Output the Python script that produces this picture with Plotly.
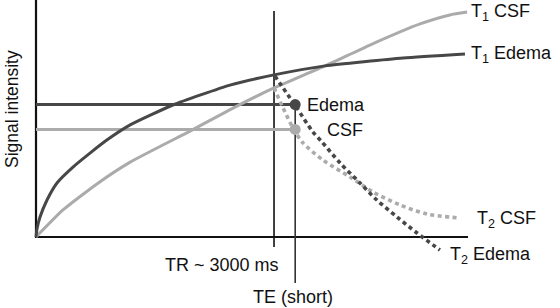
import plotly.graph_objects as go

# ---- data (arbitrary units: time 0..100 along x axis, signal 0..100 up y axis) ----
t1_edema_x = [0, 0.23, 0.93, 2.55, 4.86, 8.56, 12.5, 16.4, 21.8, 31.7, 44.9, 55.1, 66.9, 85.0, 99.3]
t1_edema_y = [0, 3.4, 8.4, 15.6, 22.8, 29.5, 35.4, 40.9, 47.3, 55.7, 64.1, 68.4, 72.2, 75.5, 77.2]

t1_csf_x = [0, 6.25, 14.1, 21.8, 36.1, 45.6, 55.1, 66.9, 77.3, 88.9, 95.8, 99.8]
t1_csf_y = [0, 11.4, 22.4, 31.6, 45.1, 54.4, 62.9, 72.2, 81.0, 89.9, 93.7, 94.9]

t2_edema_x = [55.3, 60.4, 64.1, 66.2, 70.4, 75.0, 78.9, 83.6, 88.2, 93.5]
t2_edema_y = [67.9, 54.4, 44.3, 40.1, 31.2, 22.8, 15.6, 8.4, 1.7, -5.5]

t2_csf_x = [55.1, 57.2, 59.5, 61.8, 66.4, 72.7, 78.0, 84.3, 90.5, 98.1]
t2_csf_y = [62.9, 54.4, 46.0, 39.7, 32.5, 25.3, 19.0, 13.5, 9.7, 8.0]

tr_time = 55.1          # TR ~ 3000 ms
te_time = 60.0          # TE (short)
edema_signal = 55.9
csf_signal = 45.4
axis_max_x = 100
axis_max_y = 100

DARK = "#474747"
LIGHT = "#ababab"
FONT = "Liberation Sans, Arial, Helvetica, sans-serif"

fig = go.Figure()

def line(x, y, color, width, dash="solid", shape="linear", smoothing=1.0):
    fig.add_trace(go.Scatter(x=x, y=y, mode="lines", hoverinfo="skip",
                             line=dict(color=color, width=width, dash=dash, shape=shape,
                                       smoothing=smoothing)))

# axes
line([0, 0, axis_max_x], [axis_max_y, 0, 0], "#111111", 2.2)
# TR and TE markers
line([tr_time, tr_time], [95.4, -4.2], "#111111", 1.6)
line([te_time, te_time], [edema_signal, -19.4], "#333333", 1.6)
# horizontal signal lines
line([0, te_time], [edema_signal, edema_signal], DARK, 2.8)
line([0, te_time], [csf_signal, csf_signal], LIGHT, 3.0)
# T1 curves
line(t1_csf_x, t1_csf_y, LIGHT, 3.0, shape="spline", smoothing=0.5)
line(t1_edema_x, t1_edema_y, DARK, 3.0, shape="spline", smoothing=0.5)
# T2 curves
line(t2_csf_x, t2_csf_y, LIGHT, 3.6, dash="4px,3.5px", shape="spline", smoothing=0.8)
line(t2_edema_x, t2_edema_y, DARK, 3.6, dash="4px,3.5px", shape="spline", smoothing=0.8)
# dots
fig.add_trace(go.Scatter(x=[te_time], y=[edema_signal], mode="markers", hoverinfo="skip",
                         marker=dict(color=DARK, size=11)))
fig.add_trace(go.Scatter(x=[te_time], y=[csf_signal], mode="markers", hoverinfo="skip",
                         marker=dict(color=LIGHT, size=11)))

labels = [
    ("T<sub>1</sub> CSF", 100.2, 94.7, "left"),
    ("T<sub>1</sub> Edema", 100.2, 77.2, "left"),
    ("Edema", 62.3, 55.7, "left"),
    ("CSF", 66.9, 45.1, "left"),
    ("T<sub>2</sub> CSF", 101.6, 7.2, "left"),
    ("T<sub>2</sub> Edema", 95.4, -8.0, "left"),
    ("TR ~ 3000 ms", 43.1, -11.8, "center"),
    ("TE (short)", 59.5, -25.3, "center"),
]
for text, x, y, anchor in labels:
    fig.add_annotation(x=x, y=y, text=text, showarrow=False, xanchor=anchor, yanchor="middle",
                       font=dict(family=FONT, size=18, color="#111111"))
fig.add_annotation(x=-5.56, y=54.0, text="Signal intensity", showarrow=False, textangle=-90,
                   xanchor="center", yanchor="middle",
                   font=dict(family=FONT, size=17.5, color="#111111"))

fig.update_layout(
    width=560, height=308, margin=dict(l=0, r=0, t=0, b=0),
    paper_bgcolor="white", plot_bgcolor="white", showlegend=False,
    xaxis=dict(range=[-8.333, 121.3], visible=False, fixedrange=True),
    yaxis=dict(range=[-29.96, 100], visible=False, fixedrange=True),
)
fig.write_html("out.html")
